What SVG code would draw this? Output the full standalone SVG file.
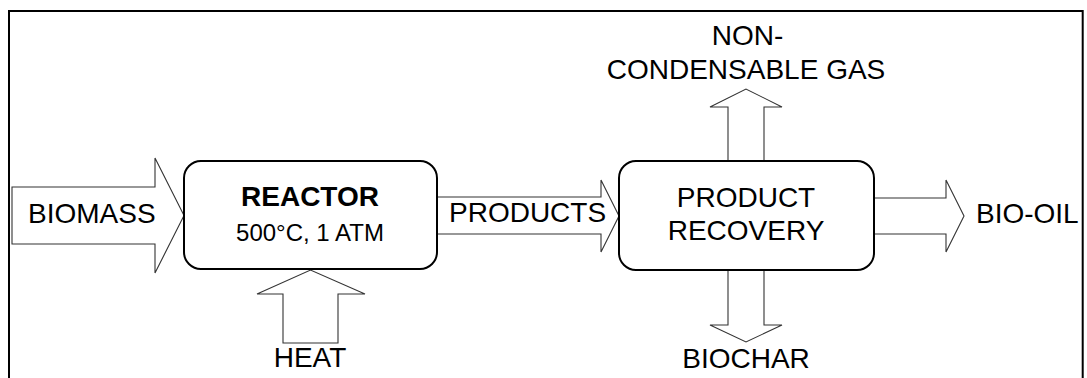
<svg xmlns="http://www.w3.org/2000/svg" width="1087" height="378" viewBox="0 0 1087 378">
<style>
.frame{fill:none;stroke:#000;stroke-width:2}
.arrow{fill:#fff;stroke:#333;stroke-width:1.1;stroke-linejoin:miter}
.box{fill:#fff;stroke:#000;stroke-width:2}
.t{font-family:"Liberation Sans",Arial,sans-serif;font-size:28px;fill:#000}
.b{font-weight:bold}
.s{font-size:24px}
.m{text-anchor:middle}
</style>
<rect width="1087" height="378" fill="#fff"/>
<path class="frame" d="M9,379 V11 H1082.7 V379"/>
<g id="connectors">
  <polygon id="arrow-biomass" class="arrow" points="12,187 155,187 155,158 184,215.5 155,273 155,244 12,244"/>
  <polygon id="arrow-heat" class="arrow" points="283,343 283,294 257,294 310.5,270 365,294 338,294 338,343"/>
  <polygon id="arrow-products" class="arrow" points="437,197 601,197 601,180 619,216 601,252 601,234 437,234"/>
  <polygon id="arrow-gas" class="arrow" points="728,161 728,107 710,107 746,89 782,107 764,107 764,161"/>
  <polygon id="arrow-biochar" class="arrow" points="728,270 728,325 710,325 746,342 782,325 764,325 764,270"/>
  <polygon id="arrow-biooil" class="arrow" points="874,198 946,198 946,180 964,216 946,252 946,234 874,234"/>
  <text class="t" x="28" y="223">BIOMASS</text>
  <text class="t m" x="310" y="367">HEAT</text>
  <text class="t" x="449" y="222">PRODUCTS</text>
  <text class="t m" x="747.5" y="45">NON-</text>
  <text class="t m" x="746" y="79">CONDENSABLE GAS</text>
  <text class="t m" x="746" y="368">BIOCHAR</text>
  <text class="t" x="976" y="223">BIO-OIL</text>
</g>
<g id="reactor">
  <rect class="box" x="184" y="161" width="253" height="108" rx="17"/>
  <text class="t b m" x="310" y="206">REACTOR</text>
  <text class="t s m" x="310" y="241">500°C, 1 ATM</text>
</g>
<g id="product-recovery">
  <rect class="box" x="619" y="161" width="255" height="109" rx="17"/>
  <text class="t m" x="746" y="207">PRODUCT</text>
  <text class="t m" x="746" y="240">RECOVERY</text>
</g>
</svg>
